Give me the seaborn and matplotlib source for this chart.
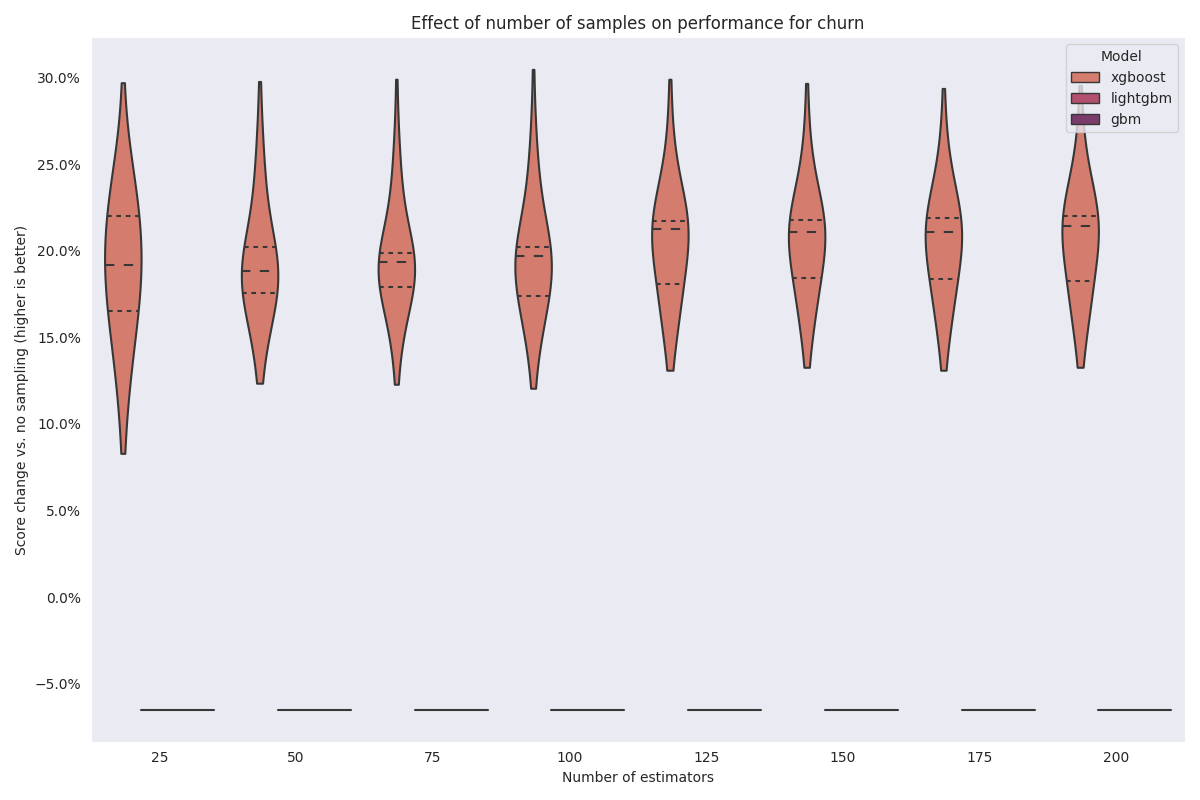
import numpy as np
import pandas as pd
import matplotlib.pyplot as plt
import seaborn as sns
from matplotlib.ticker import PercentFormatter

estimators = [25, 50, 75, 100, 125, 150, 175, 200]
models = ['xgboost', 'lightgbm', 'gbm']

# xgboost score change (%) per number of estimators, as value -> count tables
xgb_values = {
    25: [8.3, 10.3, 11.4, 12.4, 13.4, 14.3, 15.1, 15.8, 16.5, 17.2, 17.9, 18.6, 19.2,
         19.9, 20.6, 21.3, 22.0, 22.6, 23.4, 24.3, 25.3, 26.5, 29.7],
    50: [12.35, 13.3, 14.2, 15.0, 15.8, 16.6, 17.2, 17.54, 17.9, 18.2, 18.5, 18.81,
         19.1, 19.5, 19.9, 20.2, 20.8, 21.6, 22.5, 23.4, 24.3, 25.3, 26.4, 27.8, 29.77],
    75: [12.29, 13.4, 14.4, 15.3, 16.0, 16.7, 17.3, 17.89, 18.3, 18.7, 19.05, 19.33,
         19.45, 19.6, 19.75, 19.85, 20.5, 21.3, 22.2, 23.1, 24.0, 25.0, 26.0, 27.5, 29.9],
    100: [12.06, 13.2, 14.2, 15.0, 15.7, 16.4, 16.9, 17.37, 17.9, 18.6, 19.2, 19.68,
          19.8, 19.95, 20.1, 20.2, 20.8, 21.6, 22.5, 23.4, 24.3, 25.3, 26.4, 28.0, 30.47],
    125: [13.1, 14.0, 14.9, 15.7, 16.5, 17.3, 18.06, 18.9, 19.8, 20.6, 21.23,
          21.35, 21.47, 21.59, 21.7, 22.3, 23.0, 23.8, 24.7, 25.7, 26.9, 28.2, 29.9],
    150: [13.27, 14.2, 15.1, 15.9, 16.8, 17.6, 18.41, 19.2, 19.9, 20.5, 21.06,
          21.2, 21.4, 21.6, 21.75, 22.3, 23.0, 23.8, 24.7, 25.7, 26.8, 28.0, 29.66],
    175: [13.1, 14.1, 15.0, 15.8, 16.7, 17.5, 18.35, 19.1, 19.8, 20.5, 21.06,
          21.25, 21.45, 21.65, 21.87, 22.4, 23.1, 23.9, 24.7, 25.6, 26.6, 27.8, 29.37],
    200: [13.27, 14.2, 15.1, 15.9, 16.7, 17.5, 18.23, 19.1, 19.9, 20.7, 21.4,
          21.55, 21.7, 21.85, 21.98, 22.5, 23.2, 24.0, 24.8, 25.7, 26.7, 27.9, 29.54],
}
xgb_counts = {
    25: [1, 1, 2, 2, 3, 3, 3, 4, 2, 6, 6, 6, 2, 6, 6, 6, 2, 5, 5, 4, 3, 1, 1],
    50: [1, 1, 2, 3, 4, 4, 4, 2, 6, 6, 6, 2, 6, 6, 6, 2, 2, 2, 3, 3, 3, 2, 2, 1, 1],
    75: [1, 1, 2, 2, 3, 4, 6, 2, 6, 6, 6, 2, 6, 6, 6, 2, 2, 2, 3, 3, 3, 2, 2, 1, 1],
    100: [1, 1, 2, 2, 3, 4, 6, 2, 5, 6, 7, 2, 6, 6, 6, 2, 2, 2, 3, 3, 3, 2, 2, 1, 1],
    125: [1, 1, 2, 3, 5, 7, 2, 6, 6, 6, 2, 6, 6, 6, 2, 4, 4, 3, 3, 2, 1, 1, 1],
    150: [1, 1, 2, 3, 5, 7, 2, 6, 6, 6, 2, 6, 6, 6, 2, 4, 4, 3, 3, 2, 1, 1, 1],
    175: [1, 1, 2, 3, 5, 7, 2, 6, 6, 6, 2, 6, 6, 6, 2, 4, 4, 3, 3, 2, 1, 1, 1],
    200: [1, 1, 2, 3, 5, 7, 2, 6, 6, 6, 2, 6, 6, 6, 2, 4, 4, 3, 3, 2, 1, 1, 1],
}
# lightgbm and gbm give the same score on every run
lgbm_score = -6.5
gbm_score = -6.5

frames = []
for n in estimators:
    scores = np.repeat(xgb_values[n], xgb_counts[n]) / 100
    frames.append(pd.DataFrame({'Number of estimators': n, 'Model': 'xgboost', 'score': scores}))
    frames.append(pd.DataFrame({'Number of estimators': n, 'Model': 'lightgbm', 'score': [lgbm_score / 100] * 5}))
    frames.append(pd.DataFrame({'Number of estimators': n, 'Model': 'gbm', 'score': [gbm_score / 100] * 5}))
df = pd.concat(frames, ignore_index=True)

sns.set_style('dark')
fig, ax = plt.subplots(figsize=(12, 8), dpi=100)
sns.violinplot(data=df, x='Number of estimators', y='score', hue='Model',
               hue_order=models, palette='flare', inner='quartile', cut=0,
               density_norm='width', bw_adjust=1.7, linewidth=1.5, ax=ax)

# old-style quartile dashes: short for the quartiles, long for the median
dashed = [l for l in ax.lines if l.get_linestyle() not in ('-', 'None')]
for i, l in enumerate(dashed):
    l.set_linewidth(1.5)
    l.set_dashes([4.5, 4.5] if i % 3 == 1 else [2.25, 2.25])

ax.yaxis.set_major_formatter(PercentFormatter(1))
ax.set_title('Effect of number of samples on performance for churn')
ax.set_xlabel('Number of estimators')
ax.set_ylabel('Score change vs. no sampling (higher is better)')
leg = ax.legend(title='Model', loc='upper right')
for h in leg.legend_handles:
    h.set_linewidth(1)

plt.tight_layout()
plt.savefig('out.png')
